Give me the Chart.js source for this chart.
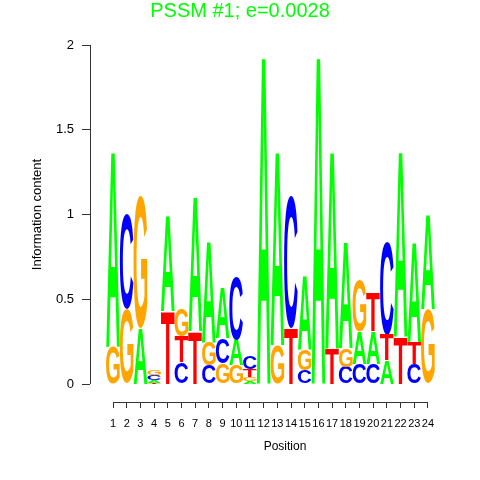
<!DOCTYPE html>
<html><head><meta charset="utf-8">
<script src="https://cdn.jsdelivr.net/npm/chart.js@4/dist/chart.umd.min.js"></script>
<style>html,body{margin:0;padding:0;background:#fff}#wrap{width:480px;height:480px;position:relative}</style>
</head><body><div id="wrap"><canvas id="c"></canvas></div>
<script>
// ---- data (information content per letter, bits) ----
const positions = [1,2,3,4,5,6,7,8,9,10,11,12,13,14,15,16,17,18,19,20,21,22,23,24];
const letters = ['A','C','G','T'];
const A = [1.16,0.00,0.33,0.017,0.57,0.00,0.80,0.60,0.30,0.15,0.015,1.95,1.15,0.00,0.44,1.95,1.17,0.63,0.19,0.19,0.14,1.10,0.59,0.56];
const C = [0.00,0.56,0.00,0.027,0.00,0.13,0.00,0.11,0.15,0.37,0.080,0.00,0.00,0.78,0.08,0.00,0.00,0.10,0.12,0.12,0.55,0.00,0.12,0.00];
const G = [0.22,0.44,0.78,0.030,0.00,0.16,0.00,0.14,0.12,0.11,0.025,0.00,0.23,0.00,0.12,0.00,0.00,0.11,0.30,0.00,0.00,0.00,0.00,0.44];
const T = [0.00,0.00,0.00,0.008,0.43,0.15,0.31,0.00,0.00,0.00,0.045,0.00,0.00,0.33,0.00,0.00,0.21,0.00,0.00,0.23,0.15,0.28,0.13,0.00];
const yTicks = [0, 0.5, 1, 1.5, 2];
const titleText = 'PSSM #1; e=0.0028';
const xTitle = 'Position';
const yTitle = 'Information content';
const letterColors = {A:'#00FF00', C:'#0000FF', G:'#FFA500', T:'#FF0000'};

// ---- build stacked floating bars (smallest at bottom) ----
const heights = {A:A, C:C, G:G, T:T};
const datasets = letters.map(L => ({label:L, letter:L, data:[], backgroundColor:'rgba(0,0,0,0)', borderWidth:0}));
positions.forEach((p, i) => {
  const order = letters.slice().sort((a, b) => heights[a][i] - heights[b][i]);
  let base = 0;
  order.forEach(L => {
    const h = heights[L][i];
    datasets[letters.indexOf(L)].data.push({x:p, y:[base, base + h]});
    base += h;
  });
});

const FONT = '"Liberation Sans", Arial, sans-serif';

const logoLetters = {
  id:'logoLetters',
  afterDatasetsDraw(chart) {
    const ctx = chart.ctx;
    ctx.save();
    ctx.font = 'bold 100px ' + FONT;
    ctx.textAlign = 'left';
    ctx.textBaseline = 'alphabetic';
    chart.data.datasets.forEach((ds, di) => {
      const meta = chart.getDatasetMeta(di);
      const m = ctx.measureText(ds.letter);
      const gl = m.actualBoundingBoxLeft, gr = m.actualBoundingBoxRight;
      const ga = m.actualBoundingBoxAscent, gd = m.actualBoundingBoxDescent;
      const gw = gl + gr, gh = ga + gd;
      meta.data.forEach(el => {
        const {x, y, base, width} = el.getProps(['x','y','base','width'], true);
        const h = base - y;
        if (h < 0.3) return;
        ctx.save();
        ctx.translate(x - width / 2, y);
        ctx.scale(width / gw, h / gh);
        ctx.fillStyle = letterColors[ds.letter];
        ctx.fillText(ds.letter, gl, ga);
        ctx.restore();
      });
    });
    ctx.restore();
  }
};

const axisLines = {
  id:'axisLines',
  afterDraw(chart) {
    const ctx = chart.ctx, xs = chart.scales.x, ys = chart.scales.y, ca = chart.chartArea;
    ctx.save();
    ctx.strokeStyle = '#333';
    ctx.lineWidth = 1;
    ctx.beginPath();
    const lx = Math.round(ca.left) + 0.5;
    ctx.moveTo(lx, ys.getPixelForValue(yTicks[0]));
    ctx.lineTo(lx, ys.getPixelForValue(yTicks[yTicks.length - 1]));
    const by = Math.round(ca.bottom) + 0.5;
    ctx.moveTo(xs.getPixelForValue(positions[0]), by);
    ctx.lineTo(xs.getPixelForValue(positions[positions.length - 1]), by);
    ctx.stroke();
    // y axis title centred on the 0..2 range
    ctx.fillStyle = '#000';
    ctx.font = '13px ' + FONT;
    ctx.textAlign = 'center';
    ctx.textBaseline = 'middle';
    const cy = (ys.getPixelForValue(yTicks[0]) + ys.getPixelForValue(yTicks[yTicks.length - 1])) / 2;
    ctx.translate(37, cy);
    ctx.rotate(-Math.PI / 2);
    ctx.fillText(yTitle, 0, 0);
    ctx.restore();
  }
};

new Chart(document.getElementById('c'), {
  type:'bar',
  data:{datasets:datasets},
  options:{
    responsive:true, maintainAspectRatio:false, animation:false,
    devicePixelRatio:1,
    layout:{padding:0},
    datasets:{bar:{grouped:false, barPercentage:1, categoryPercentage:1}},
    plugins:{
      legend:{display:false},
      tooltip:{enabled:false},
      title:{display:true, text:titleText, color:'#00FF00',
        font:{family:FONT, size:20, weight:'normal', lineHeight:1.05},
        padding:{top:1, bottom:23}}
    },
    scales:{
      x:{type:'linear', min:-0.68, max:27.8, offset:false,
        afterBuildTicks(s){ s.ticks = positions.map(v => ({value:v})); },
        afterFit(s){ s.height = 78; },
        border:{display:false},
        grid:{display:true, drawOnChartArea:false, drawTicks:true, tickLength:6, tickColor:'#333', offset:false},
        ticks:{autoSkip:false, maxRotation:0, minRotation:0, padding:9, color:'#000',
          font:{family:FONT, size:11}, callback:v => String(v)},
        title:{display:true, text:xTitle, color:'#000', font:{family:FONT, size:12}, padding:{top:0, bottom:26}}
      },
      y:{type:'linear', min:-0.106, max:2,
        afterBuildTicks(s){ s.ticks = yTicks.map(v => ({value:v})); },
        afterFit(s){ s.width = 90; },
        border:{display:false},
        grid:{display:true, drawOnChartArea:false, drawTicks:true, tickLength:8, tickColor:'#333'},
        ticks:{padding:8, color:'#000', font:{family:FONT, size:13}, callback:v => String(v)}
      }
    }
  },
  plugins:[logoLetters, axisLines]
});
</script></body></html>
